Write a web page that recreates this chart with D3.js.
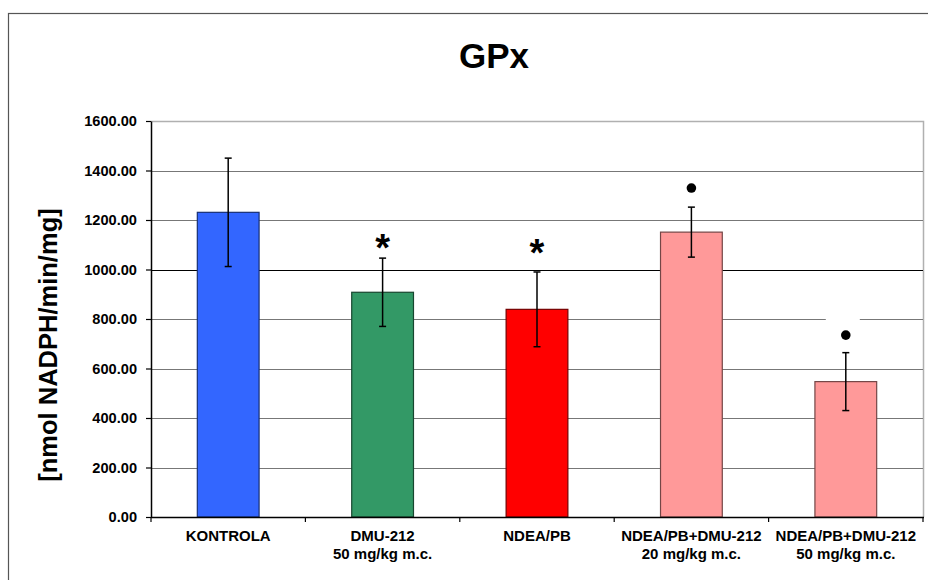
<!DOCTYPE html>
<html>
<head>
<meta charset="utf-8">
<script src="https://cdn.jsdelivr.net/npm/d3@7"></script>
<style>
  html, body { margin: 0; padding: 0; background: #fff; }
  svg { display: block; font-family: "Liberation Sans", Arial, sans-serif; }
</style>
</head>
<body>
<svg id="chart" width="928" height="580"></svg>
<script>
// GPx activity per group: means, standard deviations and significance marks
const groups = ["KONTROLA", "DMU-212", "NDEA/PB", "NDEA/PB+DMU-212", "NDEA/PB+DMU-212"];
const doses = ["", "50 mg/kg m.c.", "", "20 mg/kg m.c.", "50 mg/kg m.c."];
const means = [1231, 908, 839, 1151, 547];
const sds = [219, 138, 151, 101, 117];
const colors = ["#3366FF", "#339966", "#FF0000", "#FF9999", "#FF9999"];
// significance symbols and the data level at which each is drawn
const marks = ["", "*", "*", "•", "•"];
const markLevels = [null, 1131, 1111, 1329, 735];
const yTicks = [0, 200, 400, 600, 800, 1000, 1200, 1400, 1600];

const svg = d3.select("#chart");
const W = 928, H = 580;
const plot = { left: 151, right: 923, top: 121, bottom: 517 };

// outer chart frame
svg.append("rect")
  .attr("x", 8.5).attr("y", 13.5)
  .attr("width", W + 20).attr("height", H + 20)
  .attr("fill", "#fff").attr("stroke", "#555").attr("stroke-width", 1.2);

const x = d3.scaleBand()
  .domain(d3.range(groups.length))
  .range([plot.left, plot.right])
  .paddingInner(0.6)
  .paddingOuter(0.3);

const y = d3.scaleLinear()
  .domain([0, 1600])
  .range([plot.bottom, plot.top]);

// plot area border (top and right)
svg.append("path")
  .attr("d", `M${plot.left},${plot.top + 0.5}H${plot.right + 0.5}V${plot.bottom}`)
  .attr("fill", "none").attr("stroke", "#b0b0b0").attr("stroke-width", 1.5);

// horizontal gridlines
svg.append("g")
  .selectAll("line")
  .data(yTicks.filter(t => t > 0 && t < 1600))
  .join("line")
  .attr("x1", plot.left).attr("x2", plot.right)
  .attr("y1", d => Math.round(y(d)) + 0.5).attr("y2", d => Math.round(y(d)) + 0.5)
  .attr("stroke", d => d === 1000 ? "#000" : "#777")
  .attr("stroke-width", 1.2);

// title
svg.append("text")
  .attr("x", 494).attr("y", 68)
  .attr("text-anchor", "middle")
  .attr("font-size", 35).attr("font-weight", "bold")
  .text("GPx");

// y axis
const yAxis = svg.append("g")
  .attr("transform", `translate(${plot.left},0)`)
  .call(d3.axisLeft(y).tickValues(yTicks).tickFormat(d3.format(".2f")).tickSizeInner(5).tickSizeOuter(0).tickPadding(9));
yAxis.select(".domain").attr("stroke", "#000").attr("stroke-width", 1.5);
yAxis.selectAll(".tick line").attr("stroke", "#000").attr("stroke-width", 1.2);
yAxis.selectAll(".tick text")
  .attr("font-family", "Liberation Sans, Arial, sans-serif")
  .attr("font-size", 14.6).attr("font-weight", "bold").attr("fill", "#000");

// y axis title
svg.append("text")
  .attr("transform", `translate(57,345) rotate(-90)`)
  .attr("text-anchor", "middle")
  .attr("font-size", 25.5).attr("font-weight", "bold")
  .text("[nmol NADPH/min/mg]");

// bars
svg.append("g")
  .selectAll("rect")
  .data(means)
  .join("rect")
  .attr("x", (d, i) => x(i))
  .attr("y", d => y(d))
  .attr("width", x.bandwidth())
  .attr("height", d => y(0) - y(d))
  .attr("fill", (d, i) => colors[i])
  .attr("stroke", (d, i) => d3.color(colors[i]).darker(2.2))
  .attr("stroke-width", 1.2);

// error bars
const eb = svg.append("g").attr("stroke", "#000").attr("stroke-width", 1.5);
means.forEach((m, i) => {
  const cx = x(i) + x.bandwidth() / 2;
  const hi = y(m + sds[i]), lo = y(m - sds[i]);
  eb.append("line").attr("x1", cx).attr("x2", cx).attr("y1", hi).attr("y2", lo);
  eb.append("line").attr("x1", cx - 3.5).attr("x2", cx + 3.5).attr("y1", hi).attr("y2", hi);
  eb.append("line").attr("x1", cx - 3.5).attr("x2", cx + 3.5).attr("y1", lo).attr("y2", lo);
});

// x axis line and category separators
svg.append("line")
  .attr("x1", plot.left).attr("x2", plot.right + 1)
  .attr("y1", plot.bottom + 0.5).attr("y2", plot.bottom + 0.5)
  .attr("stroke", "#000").attr("stroke-width", 1.5);
svg.append("g")
  .selectAll("line")
  .data(d3.range(groups.length + 1))
  .join("line")
  .attr("x1", i => plot.left + i * x.step())
  .attr("x2", i => plot.left + i * x.step())
  .attr("y1", plot.bottom).attr("y2", plot.bottom + 5)
  .attr("stroke", "#000").attr("stroke-width", 1.2);

// category labels
const labels = svg.append("g")
  .attr("font-size", 15).attr("font-weight", "bold").attr("text-anchor", "middle");
groups.forEach((g, i) => {
  const cx = x(i) + x.bandwidth() / 2;
  labels.append("text").attr("x", cx).attr("y", 541).text(g);
  if (doses[i]) labels.append("text").attr("x", cx).attr("y", 559).text(doses[i]);
});

// significance marks
const mk = svg.append("g");
marks.forEach((s, i) => {
  if (!s) return;
  const cx = x(i) + x.bandwidth() / 2;
  const cy = y(markLevels[i]);
  if (s === "*") {
    mk.append("text")
      .attr("x", cx).attr("y", cy)
      .attr("dy", "0.62em")
      .attr("text-anchor", "middle")
      .attr("font-size", 38).attr("font-weight", "bold")
      .text("*");
  } else {
    if (i === 4) {
      mk.append("rect")
        .attr("x", cx - 20).attr("y", cy - 17)
        .attr("width", 34).attr("height", 30)
        .attr("fill", "#fff");
    }
    mk.append("circle").attr("cx", cx).attr("cy", cy).attr("r", 4.8).attr("fill", "#000");
  }
});
</script>
</body>
</html>
